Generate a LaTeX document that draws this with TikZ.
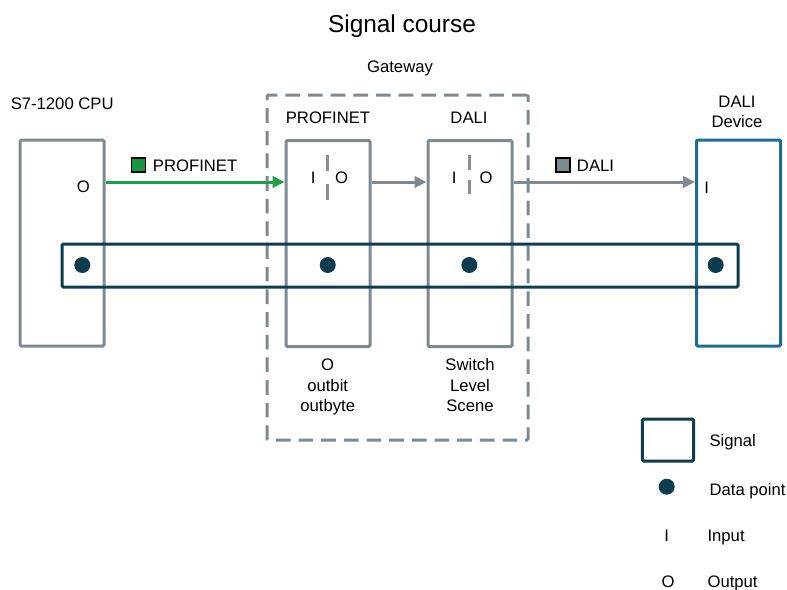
\documentclass[tikz,border=0pt]{standalone}
\usepackage{fontspec}
\setmainfont{Liberation Sans}
\usetikzlibrary{arrows.meta}

\definecolor{framegrey}{HTML}{7D8A92}
\definecolor{tickgrey}{HTML}{8C8C8C}
\definecolor{devblue}{HTML}{1B6E93}
\definecolor{sigblue}{HTML}{0D3B50}
\definecolor{profigreen}{HTML}{1F9E4A}
\definecolor{keygreen}{HTML}{16963F}

\tikzset{
	txt/.style={inner sep=0pt, font=\fontsize{12.5}{15}\selectfont, text height=9pt, text depth=0pt},
	note/.style={inner sep=0pt, font=\fontsize{12.5}{15.4}\selectfont, align=center, anchor=north},
	unit/.style={draw=framegrey, line width=2.25pt, rounded corners=1pt, minimum width=63pt, minimum height=154.5pt},
	device/.style={unit, draw=devblue},
	gateway/.style={draw=framegrey, line width=2.25pt, dash pattern=on 11pt off 6pt, rounded corners=1pt},
	signal/.style={draw=sigblue, line width=2.25pt, rounded corners=1pt},
	dot/.style={circle, fill=sigblue, minimum size=12pt, inner sep=0pt},
	flow/.style={line width=2.25pt, -{Triangle[length=9pt,width=8.5pt]}},
	tick/.style={draw=tickgrey, line width=2.25pt},
	key/.style={draw=black, line width=1.1pt, minimum size=10.5pt, inner sep=0pt},
}

\begin{document}
\begin{tikzpicture}[x=0.75pt,y=-0.75pt]
	\useasboundingbox (0,0) rectangle (787,589);
	% headings
	\node[inner sep=0pt, font=\fontsize{18.3}{22}\selectfont, text height=13pt, text depth=0pt] (title) at (402,24) {Signal course};
	\node[txt] (gwlabel) at (400,66) {Gateway};
	\node[txt, anchor=west] (cpulabel) at (10.5,103) {S7-1200 CPU};
	\node[txt] (pflabel) at (328,117) {PROFINET};
	\node[txt] (dalilabel) at (469,117) {DALI};
	\node[note] (devlabel) at (737,95.5) {DALI\\Device};

	% gateway frame and modules
	\node[gateway, minimum width=195.75pt, minimum height=258.75pt] (gw) at (397.5,267.5) {};
	\node[unit] (cpu) at (62,243) {};
	\node[unit] (pf) at (328,243.5) {};
	\node[unit] (dali) at (470,243.5) {};
	\node[device] (dev) at (738.5,243) {};

	% inputs / outputs
	\node[txt] (cpuO) at (83.3,186.7) {O};
	\node[txt] (pfI) at (313.3,177.7) {I};
	\node[txt] (pfO) at (341.7,177.7) {O};
	\node[txt] (daliI) at (454.3,177.7) {I};
	\node[txt] (daliO) at (486,177.7) {O};
	\node[txt] (devI) at (706.7,187) {I};
	\draw[tick] (327.7,155) -- (327.7,170.7);
	\draw[tick] (327.7,184) -- (327.7,200);
	\draw[tick] (469.3,155) -- (469.3,169.5);
	\draw[tick] (469.3,180) -- (469.3,194);

	% connections
	\coordinate (lvl) at (0,182);
	\draw[flow, draw=profigreen, -{Triangle[length=9pt,width=8.5pt,fill=profigreen]}] (cpu.east |- lvl) -- (pf.west |- lvl);
	\draw[flow, draw=framegrey] (pf.east |- lvl) -- (dali.west |- lvl);
	\draw[flow, draw=framegrey] (dali.east |- lvl) -- (dev.west |- lvl);
	\node[key, fill=keygreen] (pfkey) at (138.7,165) {};
	\node[txt, anchor=west] (pfkeytext) at (152.7,165) {PROFINET};
	\node[key, fill=framegrey] (dalikey) at (563,165) {};
	\node[txt, anchor=west] (dalikeytext) at (576.7,165) {DALI};

	% signal with data points
	\node[signal, minimum width=507pt, minimum height=32.25pt] (sig) at (400,265.5) {};
	\foreach \n/\x in {d1/82.3, d2/327.7, d3/469.3, d4/715.7}
		\node[dot] (\n) at (\x,265) {};

	% data below the modules
	\node[note] (pfdata) at (327.7,359) {O\\outbit\\outbyte};
	\node[note] (dalidata) at (470,358.5) {Switch\\Level\\Scene};

	% legend
	\node[signal, minimum width=38.5pt, minimum height=31.5pt] (legsig) at (668,440) {};
	\node[txt, anchor=west] (legsigtext) at (709.3,440) {Signal};
	\node[dot] (legdot) at (666.7,486.7) {};
	\node[txt, anchor=west] (legdottext) at (709.3,489) {Data point};
	\node[txt] (legI) at (666.7,535) {I};
	\node[txt, anchor=west] (legItext) at (707.3,535) {Input};
	\node[txt] (legO) at (668,581.5) {O};
	\node[txt, anchor=west] (legOtext) at (707.3,581.5) {Output};
\end{tikzpicture}
\end{document}
